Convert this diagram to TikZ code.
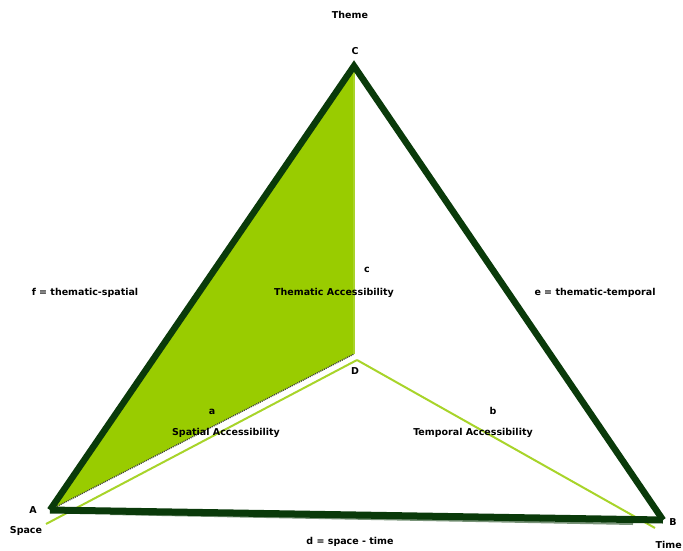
\documentclass[tikz,border=0pt]{standalone}
\usepackage{fontspec}
\newfontfamily\labelfont{DejaVu Sans}
\usepackage{tikz}
\usetikzlibrary{calc}
\definecolor{edgegreen}{HTML}{0A3A0A}
\definecolor{limegreen}{HTML}{99CC00}
\definecolor{palegreen}{HTML}{A8D42A}

\begin{document}
\begin{tikzpicture}[x=1pt, y=-1pt, every node/.style={font=\labelfont\fontsize{9.5}{10}\selectfont\bfseries, inner sep=1pt}, rim/.style={draw=edgegreen, line width=6.5pt, line join=miter}, axis/.style={draw=palegreen, line width=2pt}, lbl/.style={anchor=center}]
\useasboundingbox (0,0) rectangle (683,550);
% vertices of the pyramid
\coordinate (A) at (50,510);
\coordinate (B) at (663,520);
\coordinate (C) at (354,66);
\coordinate (D) at (357,360);
\coordinate (Dtop) at (354,354);
\coordinate (Aend) at (46,524);
\coordinate (Bend) at (655,528);
% shaded face
\fill[limegreen] (A) -- (C) -- (Dtop) -- cycle;
\draw[black!75, line width=1.3pt, dash pattern=on 1pt off 1pt] (A) -- (Dtop);
\draw[palegreen, line width=1.5pt] (C) -- (Dtop);
% inner edges
\draw[axis] (D) -- (Aend);
\draw[axis] (D) -- (Bend);
% outer triangle
\draw[rim] (A) -- (C) -- (B);
\draw[edgegreen!55, line width=2pt] ($(A)+(60,4)$) -- ($(B)+(-30,4)$);
\draw[edgegreen, line width=7pt] (A) -- (B);
% labels
\node[lbl] (theme) at (350,15) {Theme};
\node[lbl] (lc) at (355,51) {C};
\node[lbl] (ld) at (355,371) {D};
\node[lbl] (la) at (33,510) {A};
\node[lbl] (space) at (26,531) {Space};
\node[lbl] (lb) at (673,522) {B};
\node[anchor=east] (time) at (683,545) {Time};
\node[lbl] (f) at (85,293) {f = thematic-spatial};
\node[lbl] (e) at (595,293) {e = thematic-temporal};
\node[lbl] (d) at (350,542) {d = space - time};
\node[lbl] (c) at (367,270) {c};
\node[lbl] (thacc) at (334,293) {Thematic Accessibility};
\node[lbl] (a) at (212,412) {a};
\node[lbl] (spacc) at (226,433) {Spatial Accessibility};
\node[lbl] (b) at (493,411) {b};
\node[lbl] (teacc) at (473,433) {Temporal Accessibility};
\end{tikzpicture}
\end{document}
